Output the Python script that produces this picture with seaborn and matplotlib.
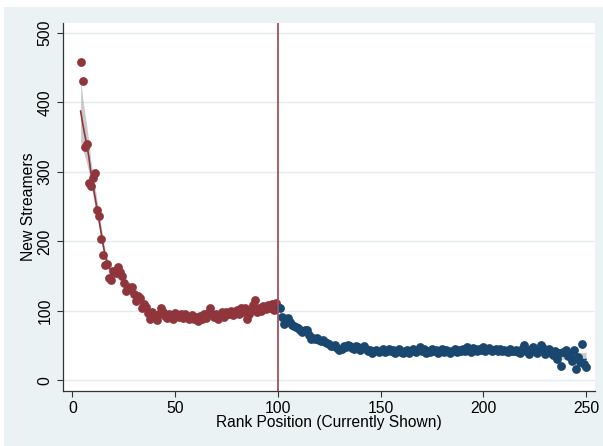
import numpy as np
import pandas as pd
import seaborn as sns
import matplotlib
matplotlib.use("Agg")
import matplotlib.pyplot as plt
from matplotlib.patches import Rectangle

# Ranks shown in the top positions (4-100) and the lower positions (101-250)
ranks_top = list(range(4, 101))
streamers_top = [
    458, 431, 336, 340, 284, 280, 291, 298, 245, 236,
    203, 181, 166, 167, 148, 145, 158, 154, 163, 156,
    150, 140, 129, 134, 131, 135, 124, 114, 122, 118,
    104, 110, 106, 97, 89, 98, 91, 87, 96, 105,
    99, 93, 90, 96, 92, 89, 97, 93, 91, 95,
    90, 96, 92, 89, 94, 88, 91, 86, 93, 88,
    95, 90, 97, 104, 95, 91, 96, 89, 94, 98,
    92, 99, 95, 100, 94, 98, 102, 96, 104, 99,
    105, 88, 95, 101, 108, 116, 98, 104, 100, 107,
    103, 109, 104, 110, 102, 111, 106,
]

ranks_low = list(range(101, 251))
streamers_low = [
    104, 92, 81, 86, 90, 84, 80, 78, 77, 75,
    73, 70, 72, 73, 66, 59, 61, 60, 61, 58,
    57, 58, 55, 54, 52, 50, 49, 51, 47, 44,
    45, 50, 48, 51, 50, 47, 46, 49, 48, 44,
    47, 49, 46, 42, 44, 40, 42, 44, 41, 43,
    45, 41, 43, 46, 42, 44, 40, 43, 45, 41,
    39, 42, 44, 40, 43, 46, 41, 44, 48, 42,
    45, 39, 43, 41, 46, 42, 44, 40, 43, 45,
    41, 44, 42, 39, 43, 45, 41, 44, 42, 46,
    43, 48, 44, 41, 47, 45, 42, 46, 44, 48,
    43, 45, 47, 42, 44, 46, 43, 45, 42, 44,
    43, 41, 45, 43, 42, 44, 41, 40, 46, 51,
    43, 38, 45, 48, 42, 40, 44, 51, 47, 38,
    42, 45, 39, 36, 42, 31, 40, 21, 41, 44,
    35, 37, 28, 44, 16, 34, 27, 52, 24, 19,
]

cutoff = 100
x_ticks = [0, 50, 100, 150, 200, 250]
y_ticks = [0, 100, 200, 300, 400, 500]

maroon = "#90353B"
navy = "#1A476F"
bg = "#EAF2F3"


def kernel_smooth(x, y, bw):
    """Epanechnikov local-mean smoother with a 95% band
    (local residual variance around the fitted curve)."""
    x = np.asarray(x, float)
    y = np.asarray(y, float)
    u = (x[:, None] - x[None, :]) / bw
    w = np.where(np.abs(u) < 1, 0.75 * (1 - u ** 2), 0.0)
    sw = w.sum(axis=1)
    fit = (w @ y) / sw
    sigma2 = (w @ (y - fit) ** 2) / sw
    se = np.sqrt(sigma2 * (w ** 2).sum(axis=1)) / sw
    return fit, fit - 1.96 * se, fit + 1.96 * se


top = pd.DataFrame({"rank": ranks_top, "streamers": streamers_top})
low = pd.DataFrame({"rank": ranks_low, "streamers": streamers_low})

sns.set_theme(style="white")
plt.rcParams["font.family"] = ["Liberation Sans", "DejaVu Sans"]

fig = plt.figure(figsize=(6.03, 4.46), dpi=100, facecolor="white")
fig.patches.append(Rectangle((4 / 603, 0), 1 - 4 / 603, (446 - 7) / 446,
                             transform=fig.transFigure, facecolor=bg,
                             edgecolor="none", zorder=-10))
ax = fig.add_axes([62.7 / 603, 1 - 390.7 / 446,
                   (595.3 - 62.7) / 603, (390.7 - 22.7) / 446])
ax.set_facecolor("white")

# grid lines at the y ticks
for yv in y_ticks:
    ax.axhline(yv, color="#E3ECEE", lw=1.0, zorder=0)

# smoothed fits with confidence bands, one per side of the cutoff
for df, col, bw in [(top, maroon, 5.0), (low, navy, 5.0)]:
    fit, lo, hi = kernel_smooth(df["rank"], df["streamers"], bw)
    ax.fill_between(df["rank"], lo, hi, color="#BDBDBD", alpha=0.8,
                    lw=0, zorder=1)
    sns.lineplot(x=df["rank"], y=fit, color=col, lw=1.2, ax=ax, zorder=2)

sns.scatterplot(data=top, x="rank", y="streamers", color=maroon, s=40,
                linewidth=0, ax=ax, zorder=3)
sns.scatterplot(data=low, x="rank", y="streamers", color=navy, s=40,
                linewidth=0, ax=ax, zorder=3)

ax.axvline(cutoff, color="#A5505A", lw=1.3, zorder=4)

ax.set_xlim(-4.7, 254.5)
ax.set_ylim(-14.7, 514.8)
ax.set_xticks(x_ticks)
ax.set_yticks(y_ticks)
ax.set_yticklabels([str(v) for v in y_ticks], rotation=90, va="center")
ax.tick_params(axis="both", which="major", direction="out", length=4.5,
               width=0.8, color="#333333", labelsize=11.3, labelcolor="black",
               bottom=True, left=True, pad=3)

for side in ["top", "right"]:
    ax.spines[side].set_visible(False)
for side in ["left", "bottom"]:
    ax.spines[side].set_color("#333333")
    ax.spines[side].set_linewidth(0.9)

ax.set_xlabel("Rank Position (Currently Shown)", fontsize=11.2,
              color="black", labelpad=-1)
ax.set_ylabel("New Streamers", fontsize=11.3, color="black", labelpad=1)

fig.savefig("out.png", dpi=100, facecolor=fig.get_facecolor())
